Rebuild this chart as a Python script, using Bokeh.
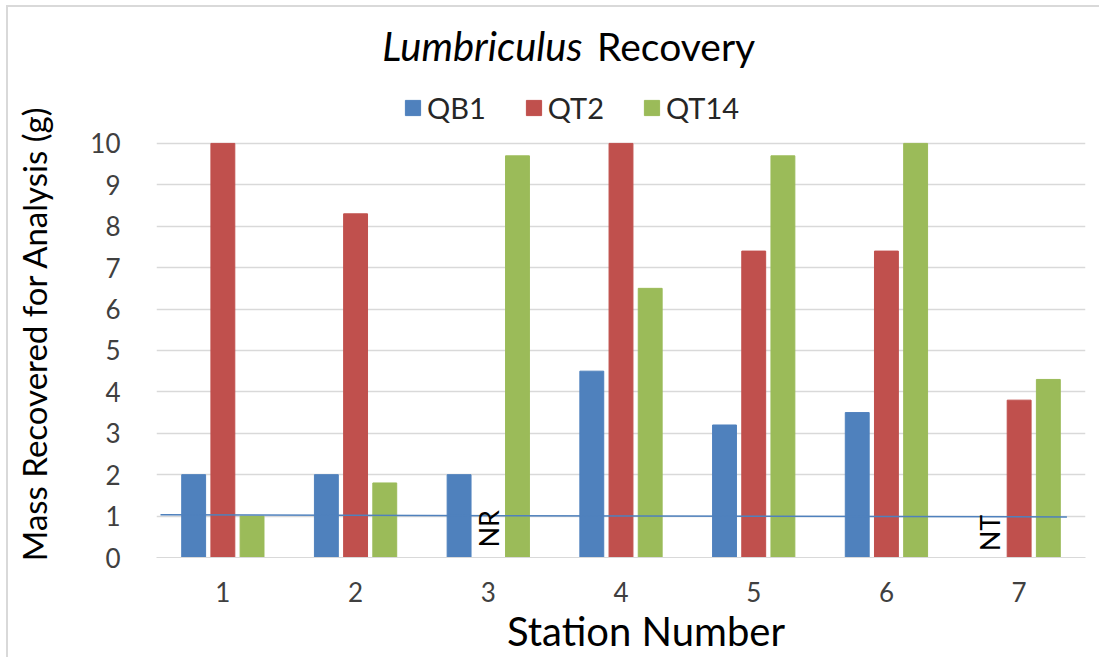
from math import pi
from bokeh.plotting import figure
from bokeh.models import ColumnDataSource, Legend, LegendItem, Label, FixedTicker, Range1d
from bokeh.core.properties import value
from bokeh.embed import file_html
from bokeh.resources import INLINE

stations = [1, 2, 3, 4, 5, 6, 7]
station_labels = ["1", "2", "3", "4", "5", "6", "7"]
qb1 = [2.0, 2.0, 2.0, 4.5, 3.2, 3.5, float("nan")]
qt2 = [10.0, 8.3, float("nan"), 10.0, 7.4, 7.4, 3.8]
qt14 = [1.0, 1.8, 9.7, 6.5, 9.7, 10.0, 4.3]
series_names = ["QB1", "QT2", "QT14"]
series_colors = ["#4F81BD", "#C0504D", "#9BBB59"]
notes_station = [3, 7]
notes_series = [1, 0]
notes_text = ["NR", "NT"]
notes_y = [0.24, 0.15]
ref_x = [0.53, 7.36]
ref_y = [1.03, 0.98]
y_ticks = [0, 1, 2, 3, 4, 5, 6, 7, 8, 9, 10]

FONT = "Lato"

p = figure(width=1093, height=652, output_backend="svg", toolbar_location=None,
           x_range=Range1d(0.5, 7.5), y_range=Range1d(0, 13.21),
           min_border_left=148, min_border_right=16, min_border_top=3, min_border_bottom=102)
p.styles = {"border-left": "2px solid #D9D9D9", "border-top": "2px solid #D9D9D9",
            "margin-left": "6px", "margin-top": "5px"}
p.outline_line_color = None
p.background_fill_color = "white"
p.border_fill_color = "white"

offsets = [-0.22, 0.0, 0.22]
bw = 0.18
renderers = []
for vals, off, col in zip([qb1, qt2, qt14], offsets, series_colors):
    src = ColumnDataSource(dict(x=[s + off for s in stations], top=vals))
    r = p.vbar(x="x", top="top", width=bw, source=src, fill_color=col, line_color=col)
    renderers.append(r)

p.line(ref_x, ref_y, line_color="#4F81BD", line_width=1.5)

nx = [s + offsets[i] for s, i in zip(notes_station, notes_series)]
p.text(x=nx, y=notes_y, text=notes_text, angle=pi / 2, text_align="left",
       text_baseline="middle", text_font=value(FONT), text_font_size="27px", text_color="#000000")

p.xaxis.ticker = FixedTicker(ticks=stations)
p.xaxis.major_label_overrides = {s: l for s, l in zip(stations, station_labels)}
p.yaxis.ticker = FixedTicker(ticks=y_ticks)
for ax in [p.xaxis, p.yaxis]:
    ax.major_tick_line_color = None
    ax.minor_tick_line_color = None
    ax.major_label_text_font = FONT
    ax.major_label_text_font_size = "26px"
    ax.major_label_text_color = "#404040"
    ax.axis_label_text_font = FONT
    ax.axis_label_text_font_style = "normal"
    ax.axis_label_text_color = "#000000"
p.xaxis.axis_label_text_font_size = "40px"
p.yaxis.axis_label_text_font_size = "33px"
p.yaxis.axis_line_color = None
p.xaxis.axis_line_color = "#D9D9D9"
p.xaxis.major_label_standoff = 18
p.yaxis.major_label_standoff = 30
p.xaxis.axis_label = "\u2003\u2002Station Number"
p.yaxis.axis_label = "Mass Recovered for Analysis (g)\u2003\u2003\u2003\u2003"
p.xaxis.axis_label_standoff = 2
p.yaxis.axis_label_standoff = 33
p.xgrid.grid_line_color = None
p.ygrid.grid_line_color = "#D9D9D9"
p.ygrid.grid_line_width = 1.5

legend = Legend(items=[LegendItem(label=n, renderers=[r]) for n, r in zip(series_names, renderers)],
                orientation="horizontal", location=(247, 432),
                label_text_font=FONT, label_text_font_size="29px", label_text_color="#262626",
                glyph_width=19, glyph_height=19, spacing=38, label_standoff=5,
                border_line_color=None, background_fill_alpha=0, padding=0, margin=0)
p.add_layout(legend)

t1 = Label(x=3.71, y=12.36, text="Lumbriculus", text_align="right", text_baseline="middle",
           text_font=FONT, text_font_size="40px", text_font_style="italic", text_color="#000000")
t2 = Label(x=3.82, y=12.36, text="Recovery", text_align="left", text_baseline="middle",
           text_font=FONT, text_font_size="39px", text_color="#000000")
p.add_layout(t1)
p.add_layout(t2)

open("out.html", "w").write(file_html(p, INLINE))
